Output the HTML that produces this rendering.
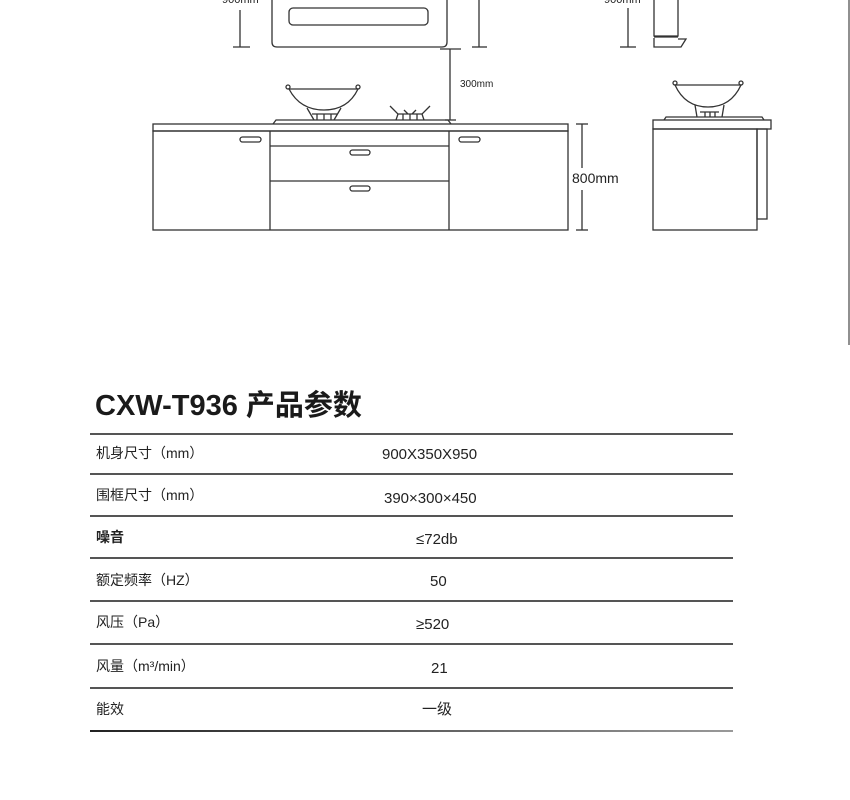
<!DOCTYPE html>
<html><head><meta charset="utf-8"><style>
body{margin:0;background:#fff;width:850px;height:800px;overflow:hidden;position:relative;font-family:"Liberation Sans","Noto Sans CJK SC",sans-serif;color:#222}
svg{position:absolute;left:0;top:0}
.t{position:absolute;font-size:14px;white-space:nowrap;line-height:1}
.hr{position:absolute;left:90px;width:643px;height:2px;background:#555}
</style></head><body>
<svg width="850" height="800" viewBox="0 0 850 800" fill="none" stroke="#333" stroke-width="1.3">
<!-- top left dims -->
<text x="222" y="3" font-size="11" fill="#222" stroke="none" font-family="Liberation Sans">900mm</text>
<line x1="240" y1="10" x2="240" y2="47"/><line x1="233" y1="47" x2="250" y2="47"/>
<line x1="479" y1="0" x2="479" y2="47"/><line x1="472" y1="47" x2="487" y2="47"/>
<!-- hood -->
<path d="M272 0 V42 Q272 47 277 47 H442 Q447 47 447 42 V0"/>
<rect x="289" y="8" width="139" height="17" rx="4"/>
<!-- 300mm -->
<line x1="450" y1="49" x2="450" y2="120"/><line x1="440" y1="49" x2="461" y2="49"/><line x1="445" y1="120" x2="456" y2="120"/>
<text x="460" y="87" font-size="10" fill="#222" stroke="none" font-family="Liberation Sans">300mm</text>
<!-- cooktop -->
<path d="M273 124 L276 120 H448 L451 124"/>
<!-- wok -->
<path d="M289 89 Q300 110 324 110 Q348 110 358 89 Z"/>
<circle cx="288" cy="87" r="2"/><circle cx="358" cy="87" r="2"/>
<path d="M307 108 L314 120 M341 108 L334 120 M312 114 H337 M317 114 V120 M324 114 V120 M331 114 V120"/>
<!-- burner -->
<path d="M390 106 L398 114 L396 120 M430 106 L422 114 L424 120 M398 114 H422 M404 110 L408 114 M416 110 L412 114 M403 114 V120 M410 114 V120 M417 114 V120"/>
<!-- cabinet -->
<rect x="153" y="124" width="415" height="7"/>
<rect x="153" y="131" width="415" height="99"/>
<line x1="270" y1="131" x2="270" y2="230"/><line x1="449" y1="131" x2="449" y2="230"/>
<line x1="270" y1="146" x2="449" y2="146"/><line x1="270" y1="181" x2="449" y2="181"/>
<rect x="240" y="137" width="21" height="5" rx="2.5"/><rect x="459" y="137" width="21" height="5" rx="2.5"/>
<rect x="350" y="150" width="20" height="5" rx="2.5"/><rect x="350" y="186" width="20" height="5" rx="2.5"/>
<!-- 800 dim -->
<line x1="582" y1="124" x2="582" y2="168"/><line x1="582" y1="190" x2="582" y2="230"/>
<line x1="576" y1="124" x2="588" y2="124"/><line x1="576" y1="230" x2="588" y2="230"/>
<text x="572" y="183" font-size="14" fill="#222" stroke="none" font-family="Liberation Sans">800mm</text>
<!-- right side view -->
<text x="604" y="3" font-size="11" fill="#222" stroke="none" font-family="Liberation Sans">900mm</text>
<line x1="628" y1="8" x2="628" y2="47"/><line x1="620" y1="47" x2="636" y2="47"/>
<path d="M654 0 V36 H678 V0"/><line x1="654" y1="37" x2="678" y2="37"/>
<path d="M654 38 V47 H681 L686 39 H678"/>
<path d="M675 85 Q685 107 708 107 Q731 107 741 85 Z"/>
<circle cx="675" cy="83" r="2"/><circle cx="741" cy="83" r="2"/>
<path d="M695 105 L697 117 M724 105 L722 117 M700 112 H719 M705 112 V117 M710 112 V117 M715 112 V117"/>
<path d="M664 120 L666 117 H762 L764 120"/>
<rect x="653" y="120" width="118" height="9"/>
<rect x="653" y="129" width="104" height="101"/>
<rect x="757" y="129" width="10" height="90"/>
<line x1="849" y1="0" x2="849" y2="345" stroke="#555"/>
</svg>
<div class="t" style="left:95px;top:392px;font-size:29px;font-weight:bold;color:#1a1a1a">CXW-T936 产品参数</div>
<div class="hr" style="top:433px"></div>
<div class="hr" style="top:473px"></div>
<div class="hr" style="top:515px"></div>
<div class="hr" style="top:557px"></div>
<div class="hr" style="top:600px"></div>
<div class="hr" style="top:643px"></div>
<div class="hr" style="top:687px"></div>
<div class="hr" style="top:730px;background:linear-gradient(90deg,#222,#999)"></div>
<div class="t" style="left:96px;top:446px">机身尺寸（mm）</div>
<div class="t" style="left:382px;top:447px;font-size:15px">900X350X950</div>
<div class="t" style="left:96px;top:488px">围框尺寸（mm）</div>
<div class="t" style="left:384px;top:491px;font-size:15px">390×300×450</div>
<div class="t" style="left:96px;top:530px;font-weight:bold">噪音</div>
<div class="t" style="left:416px;top:532px;font-size:15px">≤72db</div>
<div class="t" style="left:96px;top:573px">额定频率（HZ）</div>
<div class="t" style="left:430px;top:574px;font-size:15px">50</div>
<div class="t" style="left:96px;top:615px">风压（Pa）</div>
<div class="t" style="left:416px;top:617px;font-size:15px">≥520</div>
<div class="t" style="left:96px;top:659px">风量（m³/min）</div>
<div class="t" style="left:431px;top:661px;font-size:15px">21</div>
<div class="t" style="left:96px;top:702px">能效</div>
<div class="t" style="left:422px;top:702px;font-size:15px">一级</div>
</body></html>
